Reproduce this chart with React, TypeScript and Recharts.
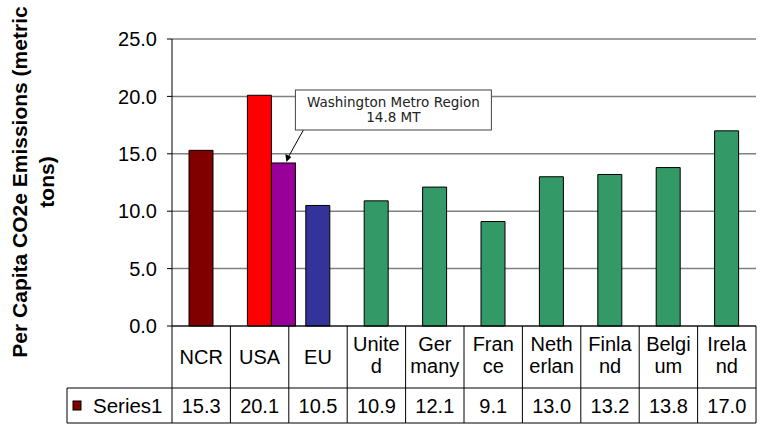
import React from 'react';
import { BarChart, Bar, XAxis, YAxis, CartesianGrid, Cell } from 'recharts';

// datos
const categories = ['NCR', 'USA', 'EU', 'United Kingdom', 'Germany', 'France', 'Netherlands', 'Finland', 'Belgium', 'Ireland'];
const categoryLines = [['NCR'], ['USA'], ['EU'], ['Unite', 'd'], ['Ger', 'many'], ['Fran', 'ce'], ['Neth', 'erlan'], ['Finla', 'nd'], ['Belgi', 'um'], ['Irela', 'nd']];
const series1 = [15.3, 20.1, 10.5, 10.9, 12.1, 9.1, 13.0, 13.2, 13.8, 17.0];
const metroValues = [null, 14.2, null, null, null, null, null, null, null, null];
const barColors = ['#800000', '#FF0000', '#333399', '#339966', '#339966', '#339966', '#339966', '#339966', '#339966', '#339966'];
const yTicks = [0, 5, 10, 15, 20, 25];
const seriesName = 'Series1';
const calloutLines = ['Washington Metro Region', '14.8 MT'];
const yTitleLines = ['Per Capita CO2e Emissions (metric', 'tons)'];

const data = categories.map((name, i) => ({ name, value: series1[i], metro: metroValues[i] }));

const FONT = '"Liberation Sans", Arial, sans-serif';
const HEADER_H = 62;
const ROW_H = 35;

// celda de la tabla de datos bajo cada categoria
const TableTick = (props: any) => {
    const { x, y, payload } = props;
    const i = payload.index;
    const half = payload.offset || 29.2;
    const left = x - half;
    const right = x + half;
    const lines = categoryLines[i];
    const baselines = lines.length === 1 ? [38] : [25, 47];
    return (
        <g>
            <line x1={right} y1={y} x2={right} y2={y + HEADER_H + ROW_H} stroke="#000" />
            <line x1={left} y1={y + HEADER_H} x2={right} y2={y + HEADER_H} stroke="#000" />
            <line x1={left} y1={y + HEADER_H + ROW_H} x2={right} y2={y + HEADER_H + ROW_H} stroke="#000" />
            {lines.map((t, k) => (
                <text key={k} x={x} y={y + baselines[k]} textAnchor="middle" fontSize={20} fontFamily={FONT} fill="#000">{t}</text>
            ))}
            <text x={x} y={y + HEADER_H + 25} textAnchor="middle" fontSize={20} fontFamily={FONT} fill="#000">{series1[i].toFixed(1)}</text>
            {i === 0 && (
                <g>
                    <line x1={left} y1={y} x2={left} y2={y + HEADER_H + ROW_H} stroke="#000" />
                    <line x1={left - 105} y1={y + HEADER_H} x2={left} y2={y + HEADER_H} stroke="#000" />
                    <line x1={left - 105} y1={y + HEADER_H + ROW_H} x2={left} y2={y + HEADER_H + ROW_H} stroke="#000" />
                    <line x1={left - 105} y1={y + HEADER_H} x2={left - 105} y2={y + HEADER_H + ROW_H} stroke="#000" />
                    <rect x={left - 99} y={y + HEADER_H + 13} width={8} height={9} fill={barColors[0]} stroke="#000" />
                    <text x={left - 79} y={y + HEADER_H + 25} fontSize={20.5} fontFamily={FONT} fill="#000">{seriesName}</text>
                </g>
            )}
        </g>
    );
};

// barra morada pegada a la de USA, con la nota
const MetroBar = (props: any) => {
    const { x, y, width, height, payload } = props;
    if (payload?.metro == null || !height) return <g />;
    const bx = x + width;
    return (
        <g>
            <rect x={bx} y={y} width={width} height={height} fill="#990099" stroke="#000" />
            <line x1={bx + 32} y1={y - 33} x2={bx + 17} y2={y - 6} stroke="#000" />
            <polygon points={`${bx + 15},${y - 1} ${bx + 14},${y - 9} ${bx + 20},${y - 6}`} fill="#000" />
            <rect x={bx + 24} y={y - 73} width={196} height={40} fill="#fff" stroke="#444" />
            {calloutLines.map((t, k) => (
                <text key={k} x={bx + 122} y={y - 56 + k * 15} textAnchor="middle" fontSize={13.5} fontFamily='"DejaVu Sans", Verdana, sans-serif' fill="#222">{t}</text>
            ))}
        </g>
    );
};

export default function App() {
    return (
        <div style={{ position: 'absolute', left: 0, top: 0, width: 762, height: 439, background: '#fff' }}>
            <BarChart width={762} height={439} data={data} margin={{ top: 39, right: 6, left: 72, bottom: 16 }}>
                <CartesianGrid vertical={false} stroke="#808080" strokeWidth={1.5} />
                <XAxis dataKey="name" height={97} interval={0} tickLine={false} tickSize={0} tickMargin={0} axisLine={{ stroke: '#000' }} tick={<TableTick />} />
                <XAxis xAxisId="metro" dataKey="name" hide />
                <YAxis
                    domain={[0, 25]}
                    ticks={yTicks}
                    width={100}
                    tickFormatter={(v: number) => v.toFixed(1)}
                    tickSize={5}
                    tickMargin={10}
                    axisLine={{ stroke: '#000' }}
                    tickLine={{ stroke: '#000' }}
                    tick={{ fontSize: 20, fill: '#000', fontFamily: FONT }}
                />
                <YAxis yAxisId="right" orientation="right" domain={[0, 25]} width={0} tick={false} tickLine={false} axisLine={{ stroke: '#808080', strokeWidth: 1.5 }} />
                <Bar dataKey="value" barSize={24} stroke="#000" isAnimationActive={false}>
                    {data.map((d, i) => <Cell key={d.name} fill={barColors[i]} />)}
                </Bar>
                <Bar dataKey="metro" xAxisId="metro" barSize={24} isAnimationActive={false} shape={<MetroBar />} />
            </BarChart>
            <svg width={80} height={439} style={{ position: 'absolute', left: 0, top: 0, pointerEvents: 'none' }}>
                {yTitleLines.map((t, k) => (
                    <text key={k} transform={`translate(${27 + k * 27},182) rotate(-90)`} textAnchor="middle" fontSize={21} fontWeight="bold" fontFamily={FONT} fill="#000">{t}</text>
                ))}
            </svg>
        </div>
    );
}
